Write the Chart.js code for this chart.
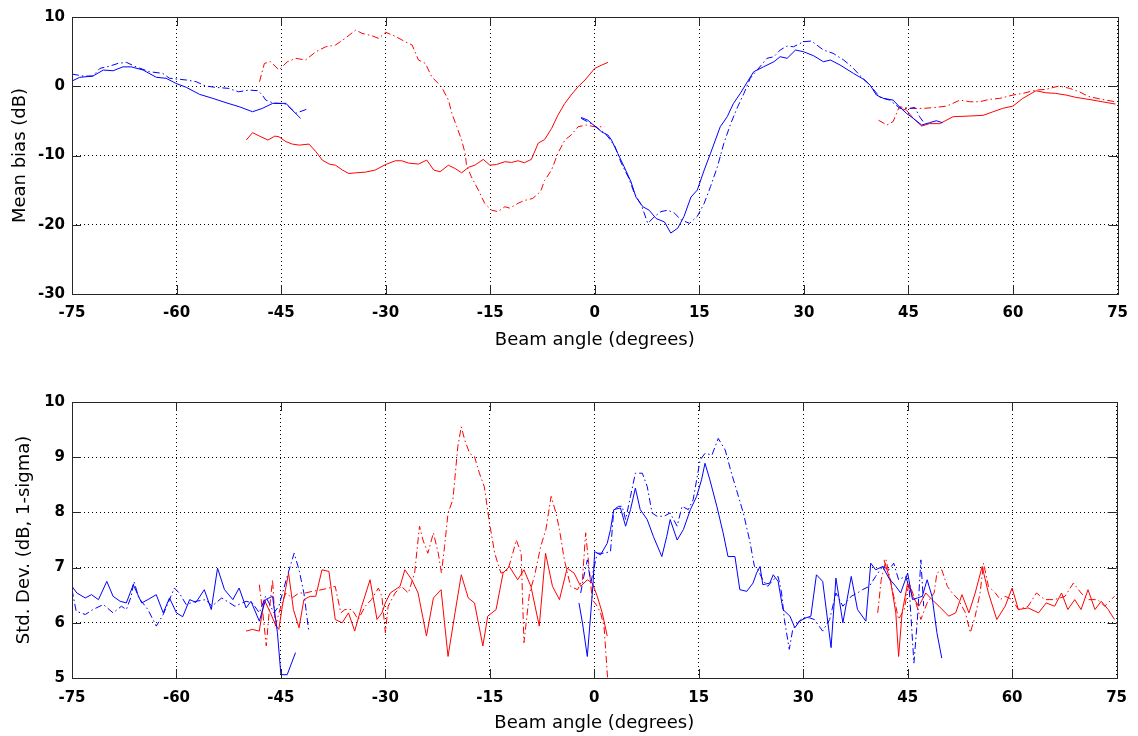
<!DOCTYPE html>
<html>
<head>
<meta charset="utf-8">
<script src="https://cdn.jsdelivr.net/npm/chart.js@4.4.1/dist/chart.umd.min.js"></script>
<style>
  html, body { margin: 0; padding: 0; background: #fff; }
  #wrap { position: relative; width: 1138px; height: 736px; }
  canvas { position: absolute; left: 0; }
  #top { top: 0; }
  #bottom { top: 360px; }
</style>
</head>
<body>
<div id="wrap">
  <canvas id="top" width="1138" height="360"></canvas>
  <canvas id="bottom" width="1138" height="376"></canvas>
</div>
<script>
// ---- tick labels ----
const xTicks = [-75, -60, -45, -30, -15, 0, 15, 30, 45, 60, 75];
const biasTicks = [-30, -20, -10, 0, 10];
const sdTicks = [5, 6, 7, 8, 9, 10];

// ---- mean bias, blue, left segment ----
const biasBlueSolidAX = [-75, -73.9, -72, -70.5, -69.1, -67.7, -66.5, -64.8, -62.9, -61.5, -60.1, -58.6, -56.7, -54.8, -52.9, -51, -49.1, -47.7, -46.2, -44.3, -43.4, -42.2];
const biasBlueSolidAY = [0.75, 1.29, 1.47, 2.34, 2.24, 2.8, 2.8, 2.34, 1.29, 1.15, 0.42, -0.16, -1.17, -1.75, -2.38, -2.96, -3.68, -3.2, -2.47, -2.47, -3.44, -4.64];
const biasBlueDashAX = [-75, -73.4, -72, -71, -69.6, -68.4, -67.2, -65.8, -63.9, -62, -61, -58.6, -57.2, -55.8, -54.4, -52.6, -51.1, -49.6, -48.3, -47.7, -47.2, -46.2, -44.3, -42.9, -41];
const biasBlueDashAY = [1.76, 1.47, 1.47, 2.58, 2.9, 3.3, 3.45, 2.8, 2.1, 1.86, 1.15, 0.9, 0.66, 0.03, -0.16, -0.3, -0.8, -0.55, -0.65, -1.27, -2.0, -2.4, -2.57, -3.9, -3.2];

// ---- mean bias, red, middle segment ----
const biasRedSolidAX = [-50, -49.1, -48.1, -46.9, -45.9, -45.3, -44.3, -43.4, -42.4, -41, -40, -39.1, -38.1, -37.2, -36.2, -35.3, -34.3, -32.9, -31.5, -30, -28.6, -27.7, -26.7, -25.3, -24.1, -23.1, -22.2, -21, -20, -19.1, -18.1, -17.2, -16, -15.05, -14.1, -12.9, -11.95, -11, -10.1, -9.1, -8.1, -7.2, -6.2, -5.3, -4.3, -3.4, -2.4, -1.4, 0, 1, 1.9];
const biasRedSolidAY = [-7.77, -6.7, -7.2, -7.77, -7.2, -7.3, -8.0, -8.35, -8.5, -8.35, -9.46, -10.66, -11.24, -11.4, -12.1, -12.6, -12.5, -12.4, -12.1, -11.3, -10.76, -10.76, -11.1, -11.24, -10.66, -12.1, -12.35, -11.4, -11.9, -12.5, -11.7, -11.4, -10.56, -11.4, -11.3, -10.9, -11.0, -10.76, -11.05, -10.56, -8.2, -7.7, -6.1, -4.2, -2.47, -1.27, -0.07, 0.9, 2.58, 3.06, 3.45];
const biasRedDashAX = [-48.1, -47.4, -46.5, -45.3, -44.1, -42.9, -41.5, -40, -38.6, -37.2, -35.8, -34.3, -33.4, -32, -31, -30, -28.6, -27.2, -26.2, -25.3, -24.3, -23.4, -22, -21, -20.5, -19.8, -19.1, -18.6, -18.4, -17.7, -16.7, -15.8, -14.8, -13.9, -12.9, -12.2, -11, -10.1, -8.9, -8.1, -7.7, -7.2, -6.2, -5.3, -4.3, -3.4, -2.4, -1.2, 0, 1.4];
const biasRedDashAY = [0.65, 3.3, 3.54, 2.34, 3.54, 4.03, 3.79, 4.99, 5.7, 5.95, 6.92, 8.12, 7.64, 7.3, 6.9, 7.8, 7.2, 6.43, 5.95, 3.79, 3.3, 1.37, -0.07, -2.0, -3.9, -5.85, -7.77, -9.7, -11.4, -13.1, -15.0, -16.9, -17.9, -18.1, -17.4, -17.6, -16.9, -16.5, -16.2, -15.5, -15.0, -13.6, -12.1, -9.7, -7.77, -7.05, -5.85, -5.6, -5.85, -5.85];

// ---- mean bias, blue, right segment ----
const biasBlueSolidBX = [-1.95, -1, 0, 1, 1.9, 2.4, 3.3, 4.2, 5.2, 5.9, 6.9, 7.8, 8.8, 10, 10.9, 11.9, 12.8, 13.8, 14.7, 15.7, 16.6, 18, 19, 19.9, 20.9, 21.9, 22.8, 24.2, 25.7, 26.6, 27.6, 28.8, 29.95, 31.4, 32.8, 33.8, 35.2, 37.1, 38.5, 39.5, 40.4, 41.4, 42.8, 43.7, 44.7, 45.7, 46.9, 48, 49, 49.9];
const biasBlueSolidBY = [-4.5, -4.9, -5.75, -6.6, -7.05, -7.77, -9.7, -11.6, -13.8, -16.0, -17.4, -17.9, -19.1, -19.6, -21.2, -20.5, -18.8, -16.0, -15.0, -12.1, -9.7, -5.85, -4.4, -2.47, -1.0, 0.65, 2.1, 2.8, 3.54, 4.27, 4.03, 5.23, 4.99, 4.4, 3.54, 3.79, 3.06, 1.86, 1.04, 0.17, -1.27, -1.75, -2.0, -2.96, -3.9, -4.64, -5.6, -5.27, -4.98, -5.27];
const biasBlueDashBX = [-1.95, -0.5, 0.5, 1.4, 1.9, 2.9, 3.8, 4.8, 5.7, 6.7, 7.6, 8.6, 9.5, 10.5, 11.4, 12.4, 13.6, 14.7, 15.7, 16.6, 17.6, 18.5, 19.5, 20.5, 21.4, 22.3, 23.3, 24.7, 25.7, 26.6, 27.6, 28.5, 29.95, 31.1, 32.8, 34.2, 35.7, 36.9, 38, 39.5, 40.9, 42.3, 43.8, 45.2, 45.9, 46.6, 47.1];
const biasBlueDashBY = [-4.64, -5.4, -6.1, -6.8, -7.3, -8.7, -11.1, -13.1, -15.5, -17.2, -19.8, -18.8, -18.1, -17.9, -18.3, -19.3, -19.8, -18.8, -16.9, -14.5, -11.6, -8.3, -5.4, -2.96, -1.03, 1.15, 2.34, 4.03, 4.27, 5.23, 5.81, 5.7, 6.43, 6.53, 5.23, 4.75, 3.79, 2.8, 1.6, 0.17, -1.6, -2.0, -3.2, -3.2, -3.05, -4.4, -5.1];

// ---- mean bias, red, right segment ----
const biasRedSolidBX = [44.2, 44.7, 45.7, 46.9, 48, 49.5, 51.4, 53.8, 55.7, 57.1, 58.5, 60, 61.4, 63.3, 64.7, 66.1, 67.6, 69, 70.9, 72.8, 74.7];
const biasRedSolidBY = [-3.3, -3.44, -4.64, -5.75, -5.4, -5.4, -4.4, -4.3, -4.2, -3.7, -3.2, -2.86, -1.75, -0.65, -0.94, -1.03, -1.27, -1.6, -1.9, -2.24, -2.57];
const biasRedDashBX = [40.7, 41.9, 42.8, 43.7, 45.2, 47.1, 49, 50.5, 52.4, 53.8, 55.2, 56.6, 58.1, 60, 61.4, 63.3, 64.7, 66.6, 68.1, 69.5, 70.9, 72.8, 74.7];
const biasRedDashBY = [-4.9, -5.6, -5.1, -2.96, -3.2, -3.2, -3.05, -2.86, -2.0, -2.24, -2.24, -1.9, -1.75, -1.27, -1.03, -0.55, -0.45, 0.03, -0.3, -0.8, -1.5, -1.9, -2.24];

// ---- std dev, blue, left segment ----
const sdBlueSolidAX = [-75, -74.3, -73.1, -72.2, -71.2, -70, -69.1, -68.1, -67.2, -66.2, -65, -64.1, -62.9, -61.9, -61, -60, -59.1, -58.1, -57.2, -56, -55, -54.1, -53.1, -51.9, -51, -50, -49.3, -48.1, -47.2, -46.2, -45.5, -45, -44.1, -42.9];
const sdBlueSolidAY = [6.66, 6.54, 6.45, 6.51, 6.42, 6.75, 6.48, 6.39, 6.36, 6.69, 6.36, 6.42, 6.51, 6.18, 6.45, 6.18, 6.11, 6.42, 6.37, 6.6, 6.24, 6.99, 6.6, 6.42, 6.63, 6.27, 6.39, 6.03, 6.42, 6.48, 5.82, 5.06, 5.06, 5.46];
const sdBlueDashAX = [-75, -74.4, -73.1, -72, -70.5, -69.1, -67.9, -67.2, -66.5, -66.1, -65.4, -64.1, -62.9, -61.9, -60.3, -59.6, -58.6, -57.2, -55.8, -54.9, -53.5, -51.6, -50, -49.1, -48.1, -47.2, -46, -45.3, -44.1, -43.1, -42.4, -41.7, -41];
const sdBlueDashAY = [6.6, 6.21, 6.15, 6.24, 6.33, 6.18, 6.3, 6.24, 6.48, 6.75, 6.45, 6.24, 5.94, 6.15, 6.63, 6.54, 6.33, 6.39, 6.42, 6.3, 6.45, 6.3, 6.39, 6.36, 6.18, 6.48, 6.18, 6.3, 6.84, 7.26, 6.96, 6.54, 5.85];

// ---- std dev, red, middle segment ----
const sdRedSolidAX = [-50, -49.1, -48.1, -47.4, -46.5, -45.8, -45.3, -44.8, -43.9, -43.2, -42.4, -41.7, -40.8, -40, -39.1, -38.1, -37.2, -36.2, -35.3, -34.4, -33.4, -32.2, -31.2, -30.5, -30, -29.3, -28.6, -27.9, -27.2, -26.2, -25.3, -24.1, -23.1, -22, -21, -20, -19.1, -18.1, -17.2, -16, -15.3, -14.1, -13.1, -12.2, -11, -10.1, -9.1, -7.9, -7, -6, -5, -3.9, -2.9, -1.95, -1, -0.29, 0.43, 1.14, 1.86];
const sdRedSolidAY = [5.85, 5.88, 5.85, 6.42, 6.18, 5.97, 5.88, 6.3, 6.9, 6.24, 5.91, 6.42, 6.48, 6.48, 6.96, 6.93, 6.06, 6.0, 6.18, 5.85, 6.3, 6.78, 6.06, 6.18, 6.36, 6.54, 6.6, 6.66, 6.96, 6.78, 6.54, 5.76, 6.45, 6.6, 5.39, 6.18, 6.87, 6.45, 6.36, 5.58, 6.12, 6.24, 6.9, 7.02, 6.78, 6.96, 6.66, 5.94, 7.26, 6.66, 6.42, 6.99, 6.9, 6.66, 6.78, 6.72, 6.48, 6.18, 5.76];
const sdRedDashAX = [-48.1, -47.6, -47.1, -46.7, -46.2, -45.8, -45, -44.3, -43.4, -42.4, -41.5, -40.5, -39.1, -38.1, -37.2, -36.4, -35.8, -34.8, -33.9, -32.9, -32, -31, -30.5, -30, -29.6, -28.6, -27.7, -26.7, -25.8, -25.1, -24.6, -23.9, -23.1, -22.4, -21.95, -21.5, -21, -20.3, -19.6, -19.1, -18.6, -17.9, -17.2, -16.5, -15.8, -15.05, -14.3, -13.4, -12.4, -11.7, -11.2, -10.5, -10.1, -9.3, -8.6, -7.7, -6.95, -6.2, -5.5, -5, -4.3, -3.4, -2.4, -1.7, -1.24, -0.76, -0.29, 0.43, 0.9, 1.4, 1.86, 2.2];
const sdRedDashAY = [6.69, 6.18, 5.58, 6.18, 6.78, 5.94, 6.3, 6.54, 6.45, 6.54, 6.54, 6.57, 6.6, 6.63, 6.66, 6.18, 6.24, 6.24, 6.06, 6.3, 6.42, 6.63, 6.48, 5.82, 6.3, 6.54, 6.66, 6.54, 6.9, 7.75, 7.5, 7.26, 7.63, 7.26, 6.9, 7.38, 7.99, 8.23, 9.19, 9.55, 9.31, 9.07, 9.01, 8.71, 8.47, 7.81, 7.26, 6.9, 6.96, 7.26, 7.5, 7.26, 5.64, 6.54, 6.84, 7.38, 7.69, 8.29, 7.99, 7.69, 7.14, 6.66, 6.6, 6.78, 7.63, 7.02, 6.42, 6.3, 6.18, 5.94, 5.09, 4.6];

// ---- std dev, blue, right segment ----
const sdBlueSolidBX = [-2.2, -1.7, -1, -0.5, -0.14, 0.05, 0.9, 1.86, 2.33, 2.8, 3.76, 4.5, 5.2, 5.9, 6.6, 7.6, 8.5, 9.7, 10.4, 10.9, 11.9, 12.8, 13.8, 14.7, 15.4, 15.9, 16.6, 17.6, 18.5, 19.2, 20.2, 20.9, 21.9, 22.8, 23.3, 23.8, 24.2, 25.2, 25.7, 26.4, 27.1, 28.1, 28.8, 29.5, 30.4, 31.1, 31.9, 32.8, 34, 34.7, 35.7, 36.9, 37.8, 39, 39.7, 40.4, 41.4, 42.3, 43.3, 44, 45, 45.7, 46.4, 47.1, 47.8, 48.5, 49.2, 49.9];
const sdBlueSolidBY = [6.36, 6.0, 5.39, 6.18, 6.78, 7.29, 7.23, 7.44, 7.69, 8.05, 8.08, 7.75, 8.05, 8.44, 8.05, 7.87, 7.56, 7.2, 7.56, 7.87, 7.5, 7.69, 8.05, 8.29, 8.59, 8.89, 8.59, 8.11, 7.63, 7.2, 7.2, 6.6, 6.57, 6.72, 6.9, 7.02, 6.69, 6.72, 6.87, 6.75, 6.24, 6.12, 5.91, 6.03, 6.09, 6.12, 6.87, 6.75, 5.55, 6.81, 6.0, 6.84, 6.24, 6.03, 7.08, 6.96, 7.02, 6.81, 6.66, 6.54, 6.9, 6.42, 6.45, 6.48, 6.78, 6.48, 5.82, 5.36];
const sdBlueDashBX = [-1.95, -1.5, -1, -0.5, 0, 0.43, 1.38, 2.33, 2.8, 3.5, 4, 4.5, 5.2, 5.9, 6.9, 7.6, 8.3, 9, 10, 10.9, 11.9, 12.6, 13.5, 14.2, 15.2, 15.9, 16.9, 17.8, 18.8, 19.7, 20.7, 21.4, 22.3, 23, 23.5, 24.2, 24.9, 25.7, 26.4, 26.9, 27.3, 28, 28.5, 29.2, 29.95, 30.9, 31.6, 32.8, 33.8, 34.7, 35.7, 36.9, 37.8, 38.5, 39.5, 40.4, 41.4, 42.3, 43, 43.7, 44.7, 45.2, 45.9, 46.4, 46.9, 47.3];
const sdBlueDashBY = [6.54, 6.84, 7.14, 6.72, 7.02, 7.26, 7.26, 7.29, 8.05, 8.11, 8.11, 7.87, 8.29, 8.71, 8.71, 8.47, 7.99, 7.93, 7.93, 7.99, 7.75, 8.11, 8.05, 8.23, 8.95, 9.07, 9.04, 9.34, 9.13, 8.71, 8.29, 7.99, 7.5, 7.02, 6.96, 6.78, 6.66, 6.78, 6.84, 6.54, 6.06, 5.52, 5.88, 6.0, 6.09, 6.09, 6.06, 5.85, 6.06, 6.54, 6.3, 6.48, 6.54, 6.6, 6.66, 6.84, 7.02, 6.96, 7.08, 6.78, 6.84, 6.66, 5.27, 6.06, 7.14, 6.3];

// ---- std dev, red, right segment ----
const sdRedSolidBX = [41.6, 42.6, 43.3, 43.7, 44.2, 45, 45.7, 46.6, 47.6, 48.5, 49.5, 50.9, 51.9, 52.8, 53.8, 54.7, 55.7, 56.6, 57.8, 59, 60, 60.9, 62.3, 63.8, 64.9, 66.1, 67.1, 68, 69, 69.9, 70.9, 71.9, 72.8, 73.8, 74.7];
const sdRedSolidBY = [7.14, 6.72, 6.18, 5.39, 6.18, 6.72, 6.48, 6.3, 6.54, 6.42, 6.3, 6.12, 6.18, 6.51, 6.18, 6.54, 7.02, 6.54, 6.06, 6.3, 6.63, 6.24, 6.27, 6.18, 6.36, 6.3, 6.54, 6.24, 6.42, 6.24, 6.6, 6.24, 6.39, 6.24, 6.06];
const sdRedDashBX = [40.7, 41.2, 41.9, 42.3, 43, 43.7, 44.5, 45.2, 45.9, 46.9, 47.8, 48.8, 49.2, 49.9, 50.7, 51.4, 52.3, 53.3, 54, 54.7, 55.4, 55.9, 56.6, 57.6, 58.3, 59, 60, 60.9, 62.3, 63.5, 64.7, 66.1, 67.6, 68.8, 69.9, 70.9, 72.3, 73.3, 74.7];
const sdRedDashBY = [6.18, 6.78, 7.14, 6.9, 6.48, 6.06, 6.24, 6.72, 6.48, 6.06, 6.36, 6.54, 6.9, 6.96, 6.66, 6.54, 6.42, 6.18, 5.82, 6.12, 6.54, 7.08, 6.66, 6.54, 6.42, 6.48, 6.42, 6.24, 6.3, 6.54, 6.42, 6.42, 6.48, 6.72, 6.54, 6.42, 6.42, 6.3, 6.48];

const BLUE = '#0000ff';
const RED = '#ff0000';
const DASHDOT = [7, 3, 1.5, 3];
const FONT = 'DejaVu Sans';

function pts(xs, ys) {
    return xs.map((x, i) => ({ x: x, y: ys[i] }));
}

function line(xs, ys, color, dashed) {
    return {
        data: pts(xs, ys),
        borderColor: color,
        borderWidth: 1,
        borderDash: dashed ? DASHDOT : [],
        pointRadius: 0,
        tension: 0,
        fill: false
    };
}

// box round the plot with inward tick marks on all four sides
const boxTicks = {
    id: 'boxTicks',
    afterDatasetsDraw(chart) {
        const { ctx, chartArea: a, scales: { x, y } } = chart;
        const len = 9;
        ctx.save();
        ctx.strokeStyle = '#262626';
        ctx.lineWidth = 1;
        ctx.beginPath();
        x.ticks.forEach(t => {
            const px = Math.round(x.getPixelForValue(t.value)) + 0.5;
            ctx.moveTo(px, a.bottom); ctx.lineTo(px, a.bottom - len);
            ctx.moveTo(px, a.top); ctx.lineTo(px, a.top + len);
        });
        y.ticks.forEach(t => {
            const py = Math.round(y.getPixelForValue(t.value)) + 0.5;
            ctx.moveTo(a.left, py); ctx.lineTo(a.left + len, py);
            ctx.moveTo(a.right, py); ctx.lineTo(a.right - len, py);
        });
        ctx.stroke();
        ctx.strokeRect(Math.round(a.left) + 0.5, Math.round(a.top) + 0.5,
            Math.round(a.right - a.left), Math.round(a.bottom - a.top));
        ctx.restore();
    }
};

function makeChart(id, datasets, yMin, yMax, yStep, yTitle, opts) {
    const ctx = document.getElementById(id).getContext('2d');
    return new Chart(ctx, {
        type: 'line',
        data: { datasets: datasets },
        plugins: [boxTicks],
        options: {
            responsive: false,
            animation: false,
            events: [],
            layout: { padding: { top: opts.padTop, right: 16, bottom: 0, left: 0 } },
            plugins: { legend: { display: false }, tooltip: { enabled: false } },
            scales: {
                x: {
                    type: 'linear',
                    min: -75,
                    max: 75,
                    afterBuildTicks: s => { s.ticks = xTicks.map(v => ({ value: v })); },
                    afterFit: s => { s.height = opts.xHeight; },
                    grid: { color: '#000', lineWidth: 1, drawTicks: false },
                    border: { display: false, dash: [1, 3] },
                    ticks: { color: '#000', padding: opts.xPad, font: { family: FONT, size: 15, weight: 'bold' } },
                    title: {
                        display: true,
                        text: 'Beam angle (degrees)',
                        color: '#000',
                        font: { family: FONT, size: 18 },
                        padding: { top: 0, bottom: opts.xTitlePad }
                    }
                },
                y: {
                    type: 'linear',
                    min: yMin,
                    max: yMax,
                    afterBuildTicks: s => { s.ticks = opts.yTicks.map(v => ({ value: v })); },
                    afterFit: s => { s.width = 72; },
                    grid: { color: '#000', lineWidth: 1, drawTicks: false },
                    border: { display: false, dash: [1, 3] },
                    ticks: { color: '#000', padding: 7, font: { family: FONT, size: 15, weight: 'bold' } },
                    title: {
                        display: true,
                        text: yTitle,
                        color: '#000',
                        font: { family: FONT, size: 18 },
                        padding: { top: opts.yTitlePad, bottom: 0 }
                    }
                }
            }
        }
    });
}

makeChart('top', [
    line(biasBlueSolidAX, biasBlueSolidAY, BLUE, false),
    line(biasBlueDashAX, biasBlueDashAY, BLUE, true),
    line(biasBlueSolidBX, biasBlueSolidBY, BLUE, false),
    line(biasBlueDashBX, biasBlueDashBY, BLUE, true),
    line(biasRedSolidAX, biasRedSolidAY, RED, false),
    line(biasRedDashAX, biasRedDashAY, RED, true),
    line(biasRedSolidBX, biasRedSolidBY, RED, false),
    line(biasRedDashBX, biasRedDashBY, RED, true)
], -30, 10, 10, 'Mean bias (dB)',
    { padTop: 17, xHeight: 66, xPad: 10, xTitlePad: 9, yTitlePad: 10, yTicks: biasTicks });

makeChart('bottom', [
    line(sdBlueSolidAX, sdBlueSolidAY, BLUE, false),
    line(sdBlueDashAX, sdBlueDashAY, BLUE, true),
    line(sdBlueSolidBX, sdBlueSolidBY, BLUE, false),
    line(sdBlueDashBX, sdBlueDashBY, BLUE, true),
    line(sdRedSolidAX, sdRedSolidAY, RED, false),
    line(sdRedDashAX, sdRedDashAY, RED, true),
    line(sdRedSolidBX, sdRedSolidBY, RED, false),
    line(sdRedDashBX, sdRedDashBY, RED, true)
], 5, 10, 1, 'Std. Dev. (dB, 1-sigma)',
    { padTop: 42, xHeight: 58, xPad: 11, xTitlePad: 2, yTitlePad: 14, yTicks: sdTicks });
</script>
</body>
</html>
